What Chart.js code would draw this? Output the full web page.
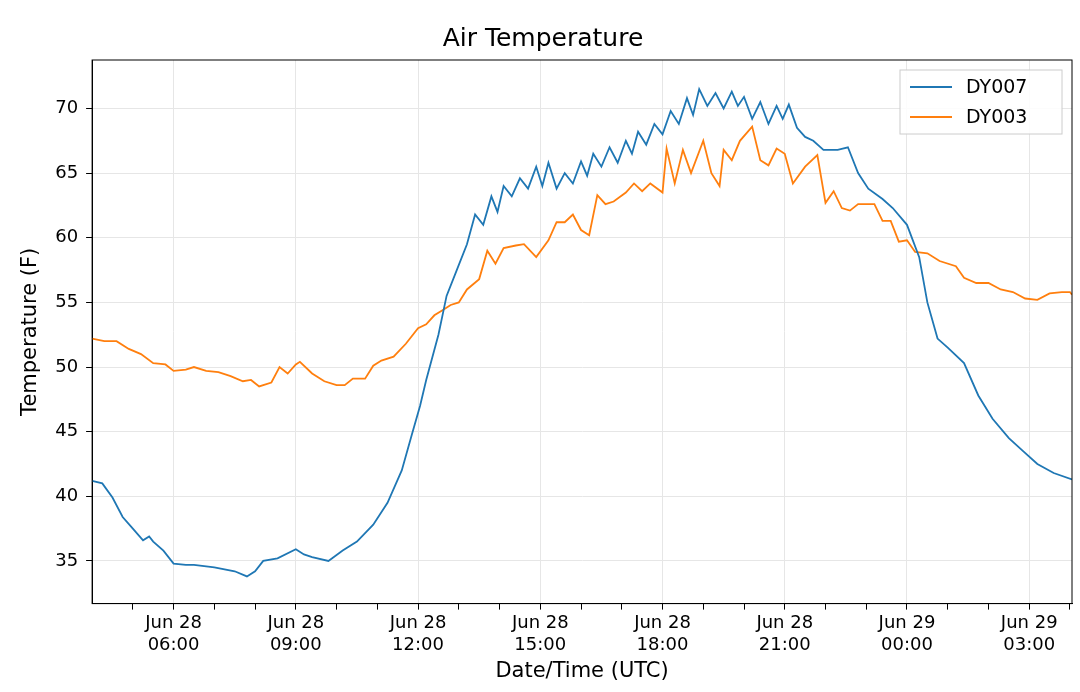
<!DOCTYPE html>
<html>
<head>
<meta charset="utf-8">
<script src="https://cdn.jsdelivr.net/npm/chart.js@4"></script>
<style>
  body { margin: 0; background: #fff; }
  #wrap { width: 1080px; height: 692px; }
</style>
</head>
<body>
<div id="wrap"><canvas id="myChart"></canvas></div>
<script>
// hours since Jun 28 00:00 UTC
let dy007Hours = [4.0, 4.25, 4.5, 4.75, 5.0, 5.25, 5.4, 5.5, 5.75, 6.0, 6.3, 6.5, 7.0, 7.5, 7.8, 8.0, 8.2, 8.55, 9.0, 9.2, 9.4, 9.8, 10.15, 10.5, 10.9, 11.25, 11.6, 11.85, 12.05, 12.2, 12.5, 12.7, 12.95, 13.2, 13.4, 13.6, 13.8, 13.95, 14.1, 14.3, 14.5, 14.7, 14.9, 15.05, 15.2, 15.4, 15.6, 15.8, 16.0, 16.15, 16.3, 16.5, 16.7, 16.9, 17.1, 17.25, 17.4, 17.6, 17.8, 18.0, 18.2, 18.4, 18.6, 18.75, 18.9, 19.1, 19.3, 19.5, 19.7, 19.85, 20.0, 20.2, 20.4, 20.6, 20.8, 20.95, 21.1, 21.3, 21.5, 21.7, 21.95, 22.3, 22.55, 22.8, 23.05, 23.4, 23.65, 24.0, 24.3, 24.5, 24.75, 25.0, 25.4, 25.75, 26.1, 26.5, 26.85, 27.2, 27.6, 28.05];
let dy007Temps = [41.2, 41.0, 39.9, 38.4, 37.5, 36.6, 36.9, 36.5, 35.8, 34.8, 34.7, 34.7, 34.5, 34.2, 33.8, 34.2, 35.0, 35.2, 35.9, 35.5, 35.3, 35.0, 35.8, 36.5, 37.8, 39.5, 42.0, 44.8, 47.0, 49.0, 52.5, 55.5, 57.5, 59.5, 61.8, 61.0, 63.2, 62.0, 64.0, 63.2, 64.6, 63.8, 65.5, 64.0, 65.8, 63.8, 65.0, 64.2, 65.9, 64.8, 66.5, 65.5, 67.0, 65.8, 67.5, 66.5, 68.2, 67.2, 68.8, 68.0, 69.8, 68.8, 70.8, 69.5, 71.5, 70.2, 71.2, 70.0, 71.3, 70.2, 70.9, 69.2, 70.5, 68.8, 70.2, 69.2, 70.3, 68.5, 67.8, 67.5, 66.8, 66.8, 67.0, 65.0, 63.8, 63.0, 62.3, 61.0, 58.5, 55.0, 52.2, 51.5, 50.3, 47.8, 46.0, 44.5, 43.5, 42.5, 41.8, 41.3];

let dy003Hours = [4.0, 4.3, 4.6, 4.9, 5.2, 5.5, 5.8, 6.0, 6.3, 6.5, 6.8, 7.1, 7.4, 7.7, 7.9, 8.1, 8.4, 8.6, 8.8, 9.0, 9.1, 9.4, 9.7, 10.0, 10.2, 10.4, 10.7, 10.9, 11.1, 11.4, 11.7, 12.0, 12.2, 12.4, 12.6, 12.8, 13.0, 13.2, 13.5, 13.7, 13.9, 14.1, 14.4, 14.6, 14.9, 15.2, 15.4, 15.6, 15.8, 16.0, 16.2, 16.4, 16.6, 16.8, 17.1, 17.3, 17.5, 17.7, 18.0, 18.1, 18.3, 18.5, 18.7, 19.0, 19.2, 19.4, 19.5, 19.7, 19.9, 20.2, 20.4, 20.6, 20.8, 21.0, 21.2, 21.5, 21.8, 22.0, 22.2, 22.4, 22.6, 22.8, 23.2, 23.4, 23.6, 23.8, 24.0, 24.2, 24.5, 24.8, 25.2, 25.4, 25.7, 26.0, 26.3, 26.6, 26.9, 27.2, 27.5, 27.8, 28.0, 28.05];
let dy003Temps = [52.2, 52.0, 52.0, 51.4, 51.0, 50.3, 50.2, 49.7, 49.8, 50.0, 49.7, 49.6, 49.3, 48.9, 49.0, 48.5, 48.8, 50.0, 49.5, 50.2, 50.4, 49.5, 48.9, 48.6, 48.6, 49.1, 49.1, 50.1, 50.5, 50.8, 51.8, 53.0, 53.3, 54.0, 54.4, 54.8, 55.0, 56.0, 56.8, 59.0, 58.0, 59.2, 59.4, 59.5, 58.5, 59.8, 61.2, 61.2, 61.8, 60.6, 60.2, 63.3, 62.6, 62.8, 63.5, 64.2, 63.6, 64.2, 63.5, 66.9, 64.2, 66.8, 65.0, 67.5, 65.0, 64.0, 66.8, 66.0, 67.5, 68.6, 66.0, 65.6, 66.9, 66.5, 64.2, 65.5, 66.4, 62.7, 63.6, 62.3, 62.1, 62.6, 62.6, 61.3, 61.3, 59.7, 59.8, 58.9, 58.8, 58.2, 57.8, 56.9, 56.5, 56.5, 56.0, 55.8, 55.3, 55.2, 55.7, 55.8, 55.8, 55.6];

let xTicks = [5, 6, 7, 8, 9, 10, 11, 12, 13, 14, 15, 16, 17, 18, 19, 20, 21, 22, 23, 24, 25, 26, 27, 28];
let yTicks = [35, 40, 45, 50, 55, 60, 65, 70];

const toPoints = (hours, temps) => hours.map((h, i) => ({ x: h, y: temps[i] }));

const tickLabel = (v) => {
  if (v % 3 != 0) return "";
  let day = v >= 24 ? "Jun 29" : "Jun 28";
  let h = v % 24;
  return [day, (h < 10 ? "0" : "") + h + ":00"];
};

// frame round the plot and a matplotlib-like legend in the top right corner
const frameAndLegend = {
  id: "frameAndLegend",
  afterDraw(chart) {
    const ctx = chart.ctx;
    const a = chart.chartArea;
    ctx.save();
    ctx.strokeStyle = "#000";
    ctx.lineWidth = 1;
    ctx.strokeRect(a.left, a.top, a.right - a.left, a.bottom - a.top);

    let w = 162, h = 64;
    let left = a.right - w - 10, top = a.top + 10;
    ctx.fillStyle = "rgba(255,255,255,0.85)";
    ctx.fillRect(left, top, w, h);
    ctx.strokeStyle = "#cccccc";
    ctx.strokeRect(left, top, w, h);
    ctx.font = "19px 'DejaVu Sans'";
    ctx.textBaseline = "middle";
    chart.data.datasets.forEach((ds, i) => {
      let y = top + 17 + i * 30;
      ctx.strokeStyle = ds.borderColor;
      ctx.lineWidth = 2;
      ctx.beginPath();
      ctx.moveTo(left + 10, y);
      ctx.lineTo(left + 52, y);
      ctx.stroke();
      ctx.fillStyle = "#000";
      ctx.fillText(ds.label, left + 66, y + 1);
    });
    ctx.restore();
  },
};

new Chart("myChart", {
  type: "line",
  data: {
    datasets: [
      {
        label: "DY007",
        data: toPoints(dy007Hours, dy007Temps),
        borderColor: "#1f77b4",
        borderWidth: 1.8,
        pointRadius: 0,
        tension: 0,
      },
      {
        label: "DY003",
        data: toPoints(dy003Hours, dy003Temps),
        borderColor: "#ff7f0e",
        borderWidth: 1.8,
        pointRadius: 0,
        tension: 0,
      },
    ],
  },
  options: {
    responsive: true,
    maintainAspectRatio: false,
    animation: false,
    layout: { padding: { left: 14, right: 8, top: 10, bottom: 4 } },
    plugins: {
      title: {
        display: true,
        text: "Air Temperature",
        color: "#000",
        font: { family: "DejaVu Sans", size: 25, weight: "normal" },
        padding: { top: 14, bottom: 6 },
      },
      legend: { display: false },
      tooltip: { enabled: false },
    },
    scales: {
      x: {
        type: "linear",
        min: 4,
        max: 28.05,
        afterBuildTicks: (axis) => {
          axis.ticks = xTicks.map((v) => ({ value: v }));
        },
        ticks: {
          autoSkip: false,
          maxRotation: 0,
          color: "#000",
          font: { family: "DejaVu Sans", size: 18 },
          callback: tickLabel,
        },
        grid: {
          color: (c) => (c.tick && c.tick.value % 3 == 0 ? "#e6e6e6" : "rgba(0,0,0,0)"),
          tickColor: "#000",
          tickLength: 6,
        },
        border: { color: "#000" },
        title: {
          display: true,
          text: "Date/Time (UTC)",
          color: "#000",
          font: { family: "DejaVu Sans", size: 21 },
          padding: { top: 0 },
        },
      },
      y: {
        min: 31.7,
        max: 73.75,
        afterBuildTicks: (axis) => {
          axis.ticks = yTicks.map((v) => ({ value: v }));
        },
        ticks: {
          color: "#000",
          font: { family: "DejaVu Sans", size: 18 },
          padding: 8,
        },
        grid: { color: "#e6e6e6", tickColor: "#000", tickLength: 6 },
        border: { color: "#000" },
        title: {
          display: true,
          text: "Temperature (F)",
          color: "#000",
          font: { family: "DejaVu Sans", size: 21 },
        },
      },
    },
  },
  plugins: [frameAndLegend],
});
</script>
</body>
</html>
